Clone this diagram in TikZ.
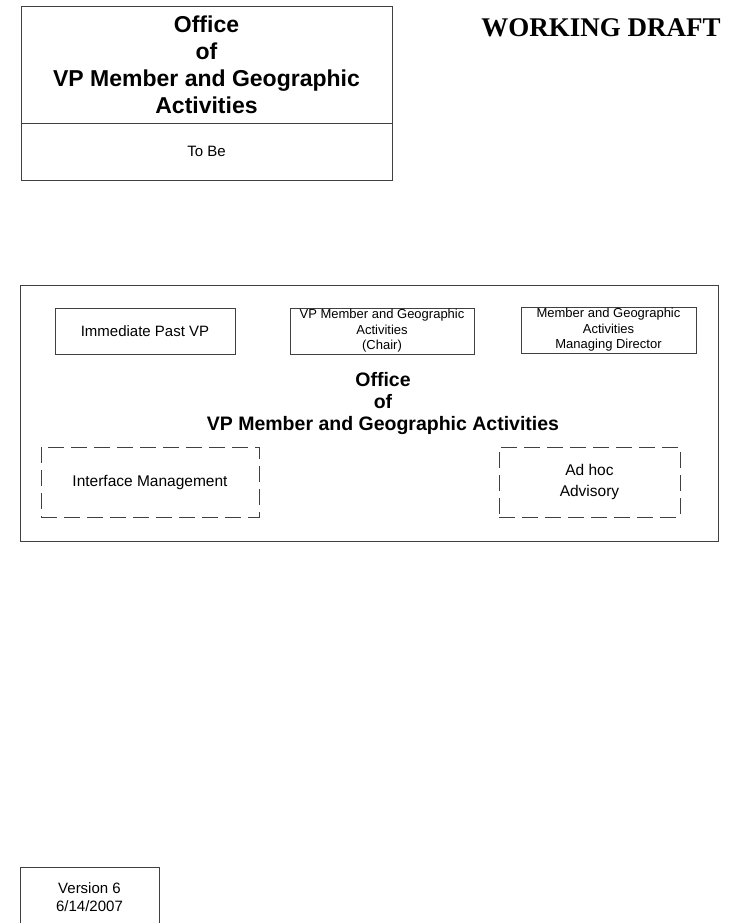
\documentclass[tikz,border=0pt]{standalone}
\usepackage{fontspec}
\setmainfont{Liberation Sans}
\newfontfamily\draftfont{Liberation Serif}
\usepackage{tikz}
\tikzset{box/.style={draw=black!75, line width=0.9pt, align=center, inner sep=0pt},
  dashbox/.style={box, dash pattern=on 16pt off 7pt},
  small/.style={font=\fontsize{13}{15.5}\selectfont}}

\begin{document}
\begin{tikzpicture}[x=1pt, y=-1pt, font=\fontsize{15}{18}\selectfont]
  \useasboundingbox (0,0) rectangle (734,923);
  \clip (0,0) rectangle (734,923);

  % Header
  \node[box, minimum width=371pt, minimum height=117pt, font=\fontsize{23}{27}\selectfont\bfseries] (title) at (206.5,64.5)
    {Office\\of\\VP Member and Geographic\\Activities};
  \node[box, minimum width=371pt, minimum height=57pt] (tobe) at (206.5,151.5) {To Be};

  \node[font=\fontsize{27}{30}\selectfont\draftfont\bfseries] (draft) at (601,28) {WORKING DRAFT};

  % Office frame
  \node[box, minimum width=698pt, minimum height=256pt] (frame) at (369,413) {};

  \node[box, minimum width=180pt, minimum height=46pt] (past) at (145,331) {Immediate Past VP};
  \node[box, small, minimum width=184pt, minimum height=46pt] (chair) at (382,331)
    {VP Member and Geographic\\Activities\\(Chair)};
  \node[box, small, minimum width=175pt, minimum height=46pt] (md) at (608.5,330)
    {Member and Geographic\\Activities\\Managing Director};

  \node[align=center, font=\fontsize{19.5}{22}\selectfont\bfseries] (office) at (383,403)
    {Office\\of\\VP Member and Geographic Activities};

  \node[dashbox, minimum width=218pt, minimum height=70pt, font=\fontsize{15.5}{18}\selectfont] (iface) at (150,482)
    {Interface Management};
  \node[dashbox, minimum width=181pt, minimum height=70pt, font=\fontsize{15.5}{20.5}\selectfont] (adhoc) at (589.5,482)
    {Ad hoc\\Advisory};

  % Footer
  \node[box, minimum width=139pt, minimum height=60pt] (version) at (89.5,897) {Version 6\\6/14/2007};
\end{tikzpicture}
\end{document}
